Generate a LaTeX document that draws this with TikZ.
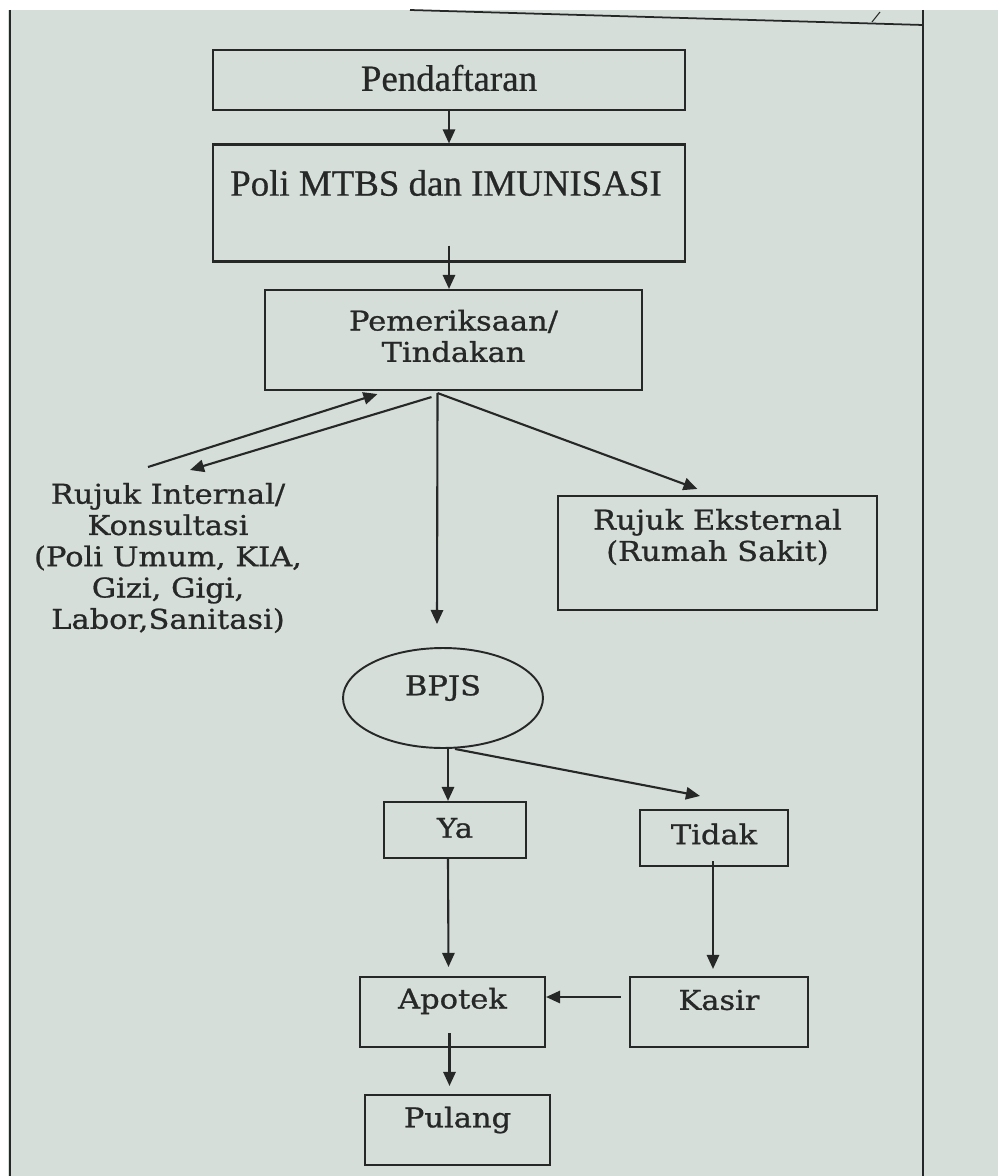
\documentclass[tikz,border=0pt]{standalone}
\usepackage{fontspec}
\setmainfont{DejaVu Serif}
\newfontfamily\topfont{Liberation Serif}[FakeBold=0.6]
\newfontfamily\lowfont{DejaVu Serif}[FakeStretch=1.12,FakeBold=0.9]
\usetikzlibrary{arrows.meta,shapes.geometric,calc}
\definecolor{bg}{RGB}{214,222,217}
\definecolor{ink}{RGB}{38,40,40}
\tikzset{
  box/.style={draw=ink,line width=1.2pt,rectangle,inner sep=0pt},
  toptext/.style={font=\topfont\fontsize{21}{24}\selectfont,text=ink,inner sep=0pt},
  lowtext/.style={font=\lowfont\fontsize{15.5}{17.8}\selectfont,text=ink,inner sep=0pt,align=center},
  arr/.style={draw=ink,line width=1.2pt,-{Triangle[length=8pt,width=7pt]}},
  frame/.style={draw=ink,line width=1pt}
}
\begin{document}
\begin{tikzpicture}[x=0.02cm,y=-0.02cm]
\useasboundingbox (0,0) rectangle (998,1176);
\fill[white] (0,0) rectangle (998,1176);
\fill[bg] (8,10) rectangle (998,1176);
% frame
\draw[frame] (10,10) -- (10,1176);
\draw[frame] (923,10) -- (923,1176);
\draw[frame] (410,10) -- (923,25);
\draw[ink,line width=0.6pt] (880,12) -- (872,22);
% boxes
\node[box,minimum width=9.44cm,minimum height=1.2cm] (daftar) at (449,80) {};
\node[toptext] (daftart) at (449,78) {Pendaftaran};
\node[box,minimum width=9.44cm,minimum height=2.34cm] (poli) at (449,203) {};
\node[toptext] (polit) at (446,183) {Poli MTBS dan IMUNISASI};
\node[box,minimum width=7.54cm,minimum height=2cm] (pem) at (453.5,340) {};
\node[lowtext] (pemt) at (453.5,336) {Pemeriksaan/\\Tindakan};
\node[lowtext] (rujint) at (168,558) {Rujuk Internal/\\Konsultasi\\(Poli Umum, KIA,\\Gizi, Gigi,\\Labor,Sanitasi)};
\node[box,minimum width=6.38cm,minimum height=2.28cm] (ekst) at (717.5,553) {};
\node[lowtext] (ekstt) at (717.5,537) {Rujuk Eksternal\\(Rumah Sakit)};
\node[draw=ink,line width=1.1pt,ellipse,minimum width=4cm,minimum height=2cm,inner sep=0pt] (bpjs) at (443,698) {};
\node[lowtext] (bpjst) at (443,688) {BPJS};
\node[box,minimum width=2.84cm,minimum height=1.12cm] (ya) at (455,830) {};
\node[lowtext] (yat) at (455,828) {Ya};
\node[box,minimum width=2.96cm,minimum height=1.12cm] (tidak) at (714,838) {};
\node[lowtext] (tidakt) at (714,834) {Tidak};
\node[box,minimum width=3.7cm,minimum height=1.4cm] (apotek) at (452.5,1012) {};
\node[lowtext] (apotekt) at (452.5,1001) {Apotek};
\node[box,minimum width=3.56cm,minimum height=1.4cm] (kasir) at (719,1012) {};
\node[lowtext] (kasirt) at (719,1000) {Kasir};
\node[box,minimum width=3.7cm,minimum height=1.4cm] (pulang) at (457.5,1130) {};
\node[lowtext] (pulangt) at (457.5,1120) {Pulang};
% free ends
\coordinate (ri1) at (148,467);
\coordinate (ri2) at (190,470);
% connectors
\draw[arr] (daftar.south) -- (poli.north);
\draw[arr] ($(poli.south)+(0,-17)$) -- ($(pem.north)+(-4.5,0)$);
\coordinate (pemout) at ($(pem.south)+(-16,2)$);
\draw[arr] (pemout) -- ($(bpjs.north)+(-6,-23)$);
\draw[arr] (pemout) -- ($(ekst.north)+(-20,-6)$);
\draw[arr] (ri1) -- ($(pem.south)+(-76,3)$);
\draw[arr] ($(pem.south)+(-22,6)$) -- (ri2);
\draw[arr] ($(bpjs.south)+(5,0)$) -- ($(ya.north)+(-7,0)$);
\draw[arr] ($(bpjs.south)+(12,0)$) -- ($(tidak.north)+(-14,-13)$);
\draw[arr] ($(ya.south)+(-7,0)$) -- ($(apotek.north)+(-4,-9)$);
\draw[arr] ($(tidak.south)+(-1,-6)$) -- ($(kasir.north)+(-6,-7)$);
\draw[arr] ($(kasir.west)+(-8,-15)$) -- ($(apotek.east)+(0,-15)$);
\draw[arr] ($(apotek.south)+(-3,-15)$) -- ($(pulang.north)+(-8,-8)$);
\end{tikzpicture}
\end{document}
